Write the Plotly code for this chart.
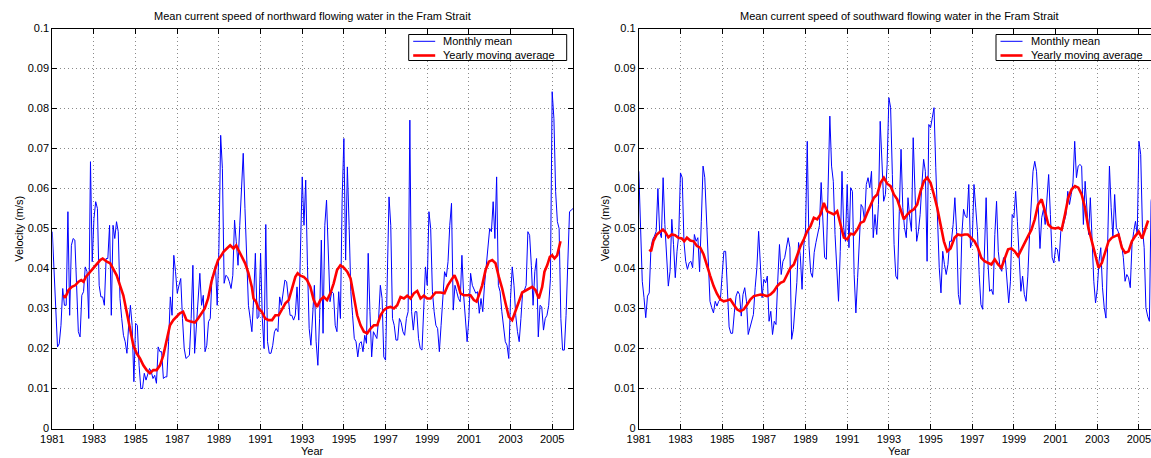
import plotly.graph_objects as go

# ---------------- data ----------------
start_year = 1981
north_monthly = [
    0.0492, 0.0400, 0.0317, 0.0204, 0.0212, 0.0258, 0.0350, 0.0308, 0.0308, 0.0542,
    0.0283, 0.0458, 0.0475, 0.0471, 0.0358, 0.0242, 0.0229, 0.0333, 0.0342, 0.0404,
    0.0392, 0.0275, 0.0667, 0.0417, 0.0525, 0.0567, 0.0550, 0.0358, 0.0329, 0.0329,
    0.0308, 0.0425, 0.0425, 0.0508, 0.0283, 0.0508, 0.0475, 0.0517, 0.0492, 0.0325,
    0.0275, 0.0233, 0.0217, 0.0188, 0.0258, 0.0308, 0.0258, 0.0117, 0.0263, 0.0258,
    0.0158, 0.0100, 0.0100, 0.0138, 0.0121, 0.0138, 0.0150, 0.0142, 0.0125, 0.0133,
    0.0113, 0.0204, 0.0192, 0.0192, 0.0125, 0.0129, 0.0129, 0.0217, 0.0329, 0.0283,
    0.0433, 0.0392, 0.0338, 0.0358, 0.0375, 0.0275, 0.0200, 0.0175, 0.0179, 0.0183,
    0.0275, 0.0408, 0.0188, 0.0250, 0.0325, 0.0388, 0.0308, 0.0333, 0.0192, 0.0208,
    0.0267, 0.0275, 0.0379, 0.0383, 0.0408, 0.0308, 0.0450, 0.0733,
    0.0650, 0.0363, 0.0383, 0.0379, 0.0367, 0.0350, 0.0383, 0.0521, 0.0467, 0.0408,
    0.0508, 0.0583, 0.0688, 0.0550, 0.0417, 0.0308, 0.0275, 0.0242, 0.0325, 0.0438,
    0.0275, 0.0279, 0.0438, 0.0275, 0.0200, 0.0510, 0.0217, 0.0188, 0.0188, 0.0208,
    0.0242, 0.0250, 0.0242, 0.0329, 0.0308, 0.0342, 0.0371, 0.0367, 0.0325, 0.0283,
    0.0283, 0.0271, 0.0283, 0.0354, 0.0271, 0.0458, 0.0629, 0.0508, 0.0621, 0.0408,
    0.0250, 0.0208, 0.0279, 0.0358, 0.0217, 0.0158, 0.0275, 0.0471, 0.0238, 0.0508,
    0.0571, 0.0417, 0.0317, 0.0342, 0.0338, 0.0258, 0.0242, 0.0342, 0.0275, 0.0575,
    0.0725, 0.0421, 0.0654, 0.0508, 0.0342, 0.0283, 0.0225, 0.0217, 0.0179, 0.0213,
    0.0217, 0.0192, 0.0233, 0.0213, 0.0438, 0.0292, 0.0179, 0.0242, 0.0233, 0.0225,
    0.0275, 0.0358, 0.0325, 0.0179, 0.0171, 0.0392, 0.0579, 0.0508, 0.0275, 0.0258,
    0.0221, 0.0221, 0.0275,
    0.0265, 0.0242, 0.0233, 0.0275, 0.0292, 0.0771, 0.0292, 0.0246, 0.0292, 0.0292,
    0.0225, 0.0200, 0.0196, 0.0292, 0.0404, 0.0358, 0.0542, 0.0500, 0.0342, 0.0292,
    0.0258, 0.0250, 0.0192, 0.0258, 0.0342, 0.0392, 0.0379, 0.0417, 0.0508, 0.0563,
    0.0296, 0.0358, 0.0342, 0.0325, 0.0317, 0.0433, 0.0333, 0.0275, 0.0217, 0.0275,
    0.0388, 0.0358, 0.0346, 0.0338, 0.0342, 0.0288, 0.0325, 0.0292, 0.0358, 0.0408,
    0.0467, 0.0500, 0.0492, 0.0567, 0.0475, 0.0629, 0.0358, 0.0342, 0.0292, 0.0258,
    0.0217, 0.0208, 0.0175, 0.0325, 0.0404, 0.0358, 0.0283, 0.0242, 0.0217, 0.0275,
    0.0342, 0.0346, 0.0358, 0.0492, 0.0483, 0.0408, 0.0308, 0.0392, 0.0425, 0.0229,
    0.0308, 0.0304, 0.0246, 0.0275, 0.0283, 0.0308, 0.0375, 0.0842, 0.0775, 0.0592,
    0.0517, 0.0500, 0.0275, 0.0196, 0.0196, 0.0283, 0.0417, 0.0542, 0.0546, 0.0550,
]

north_avg = [
    (1981.54, 0.0333), (1981.62, 0.0327), (1981.78, 0.0346), (1981.94, 0.0354), (1982.10, 0.0358),
    (1982.26, 0.0367), (1982.39, 0.0371), (1982.50, 0.0367), (1982.61, 0.0379), (1982.82, 0.0392),
    (1983.06, 0.0404), (1983.30, 0.0421), (1983.42, 0.0425), (1983.62, 0.0417), (1983.78, 0.0413),
    (1983.93, 0.0400), (1984.09, 0.0383), (1984.25, 0.0358), (1984.41, 0.0333), (1984.57, 0.0292),
    (1984.73, 0.0250), (1984.89, 0.0208), (1985.05, 0.0188), (1985.21, 0.0175), (1985.37, 0.0158),
    (1985.53, 0.0146), (1985.69, 0.0138), (1985.85, 0.0146), (1986.01, 0.0146), (1986.17, 0.0158),
    (1986.33, 0.0183), (1986.49, 0.0225), (1986.65, 0.0258), (1986.81, 0.0271), (1986.96, 0.0279),
    (1987.12, 0.0288), (1987.28, 0.0292), (1987.44, 0.0271), (1987.60, 0.0268), (1987.84, 0.0265),
    (1988.00, 0.0275), (1988.16, 0.0288), (1988.32, 0.0300), (1988.48, 0.0325), (1988.64, 0.0367),
    (1988.80, 0.0396), (1988.96, 0.0421), (1989.12, 0.0433), (1989.22, 0.0442), (1989.38, 0.0450),
    (1989.54, 0.0458), (1989.70, 0.0450), (1989.83, 0.0458), (1989.94, 0.0446), (1990.10, 0.0429),
    (1990.26, 0.0413), (1990.42, 0.0388), (1990.58, 0.0354), (1990.66, 0.0325), (1990.78, 0.0317),
    (1990.90, 0.0300), (1991.06, 0.0292), (1991.22, 0.0275), (1991.39, 0.0271), (1991.55, 0.0271),
    (1991.71, 0.0283), (1991.87, 0.0283), (1992.03, 0.0300), (1992.19, 0.0313), (1992.35, 0.0321),
    (1992.51, 0.0350), (1992.67, 0.0379), (1992.78, 0.0388), (1992.91, 0.0382), (1993.07, 0.0379),
    (1993.23, 0.0371), (1993.39, 0.0354), (1993.55, 0.0321), (1993.71, 0.0304), (1993.87, 0.0321),
    (1994.03, 0.0329), (1994.19, 0.0321), (1994.35, 0.0338), (1994.51, 0.0363), (1994.67, 0.0396),
    (1994.83, 0.0408), (1995.00, 0.0402), (1995.16, 0.0392), (1995.32, 0.0375), (1995.48, 0.0325),
    (1995.64, 0.0283), (1995.80, 0.0258), (1995.96, 0.0242), (1996.12, 0.0238), (1996.28, 0.0250),
    (1996.44, 0.0258), (1996.60, 0.0258), (1996.76, 0.0283), (1996.92, 0.0296), (1997.08, 0.0302),
    (1997.24, 0.0304), (1997.40, 0.0300), (1997.56, 0.0308), (1997.72, 0.0329), (1997.88, 0.0325),
    (1998.04, 0.0332), (1998.20, 0.0325), (1998.36, 0.0338), (1998.52, 0.0344), (1998.68, 0.0325),
    (1998.84, 0.0332), (1999.00, 0.0325), (1999.16, 0.0325), (1999.40, 0.0340), (1999.64, 0.0340),
    (1999.83, 0.0338), (1999.99, 0.0358), (2000.15, 0.0371), (2000.31, 0.0383), (2000.44, 0.0367),
    (2000.60, 0.0338), (2000.76, 0.0333), (2000.92, 0.0333), (2001.08, 0.0333), (2001.24, 0.0321),
    (2001.37, 0.0317), (2001.48, 0.0333), (2001.64, 0.0358), (2001.80, 0.0396), (2001.96, 0.0417),
    (2002.12, 0.0421), (2002.28, 0.0413), (2002.44, 0.0379), (2002.60, 0.0350), (2002.76, 0.0313),
    (2002.92, 0.0279), (2003.08, 0.0271), (2003.24, 0.0292), (2003.40, 0.0317), (2003.56, 0.0340),
    (2003.72, 0.0344), (2003.88, 0.0350), (2004.04, 0.0354), (2004.20, 0.0346), (2004.36, 0.0325),
    (2004.52, 0.0354), (2004.63, 0.0392), (2004.76, 0.0408), (2004.89, 0.0429), (2005.00, 0.0433),
    (2005.11, 0.0425), (2005.24, 0.0433), (2005.32, 0.0450), (2005.40, 0.0468),
]

south_monthly = [
    0.0643, 0.0518, 0.0368, 0.0327, 0.0277, 0.0331, 0.0339, 0.0452, 0.0473, 0.0481,
    0.0493, 0.0600, 0.0493, 0.0477, 0.0627, 0.0510, 0.0435, 0.0356, 0.0393, 0.0523,
    0.0460, 0.0377, 0.0443, 0.0485, 0.0639, 0.0627, 0.0468, 0.0418, 0.0398, 0.0414,
    0.0418, 0.0402, 0.0485, 0.0468, 0.0477, 0.0392, 0.0518, 0.0656, 0.0627, 0.0518,
    0.0402, 0.0318, 0.0302, 0.0289, 0.0318, 0.0306, 0.0318, 0.0323, 0.0385, 0.0443,
    0.0443, 0.0352, 0.0254, 0.0238, 0.0238, 0.0289, 0.0331, 0.0343, 0.0335, 0.0281,
    0.0335, 0.0352, 0.0318, 0.0235, 0.0252, 0.0268, 0.0285, 0.0352, 0.0402, 0.0493,
    0.0410, 0.0327, 0.0373, 0.0364, 0.0381, 0.0268, 0.0293, 0.0235, 0.0268, 0.0260,
    0.0368, 0.0460, 0.0385, 0.0418, 0.0427, 0.0448, 0.0477, 0.0452,
    0.0223, 0.0248, 0.0302, 0.0365, 0.0465, 0.0432, 0.0348, 0.0457, 0.0494, 0.0718,
    0.0457, 0.0390, 0.0378, 0.0440, 0.0465, 0.0486, 0.0507, 0.0615, 0.0532, 0.0428,
    0.0423, 0.0573, 0.0781, 0.0656, 0.0618, 0.0485, 0.0402, 0.0318, 0.0443, 0.0643,
    0.0502, 0.0468, 0.0610, 0.0452, 0.0602, 0.0593, 0.0385, 0.0289, 0.0377, 0.0468,
    0.0560, 0.0552, 0.0518, 0.0610, 0.0627, 0.0602, 0.0643, 0.0477, 0.0535, 0.0485,
    0.0560, 0.0768, 0.0660, 0.0568, 0.0585, 0.0660, 0.0827, 0.0802, 0.0635, 0.0460,
    0.0381, 0.0373, 0.0543, 0.0698, 0.0552, 0.0502, 0.0477, 0.0577, 0.0527, 0.0493,
    0.0727, 0.0618, 0.0468, 0.0493, 0.0535, 0.0610, 0.0673, 0.0643, 0.0418, 0.0760,
    0.0752, 0.0777, 0.0802, 0.0652, 0.0527, 0.0402, 0.0339, 0.0443, 0.0410, 0.0385,
    0.0410, 0.0468, 0.0468, 0.0510, 0.0577, 0.0493, 0.0335, 0.0310,
    0.0485, 0.0548, 0.0531, 0.0527, 0.0610, 0.0452, 0.0468, 0.0610, 0.0552, 0.0493,
    0.0385, 0.0310, 0.0298, 0.0418, 0.0577, 0.0418, 0.0343, 0.0348, 0.0335, 0.0485,
    0.0568, 0.0443, 0.0402, 0.0393, 0.0427, 0.0427, 0.0368, 0.0314, 0.0368, 0.0535,
    0.0527, 0.0593, 0.0518, 0.0418, 0.0343, 0.0381, 0.0335, 0.0318, 0.0381, 0.0485,
    0.0552, 0.0643, 0.0668, 0.0643, 0.0556, 0.0450, 0.0527, 0.0548, 0.0510, 0.0585,
    0.0635, 0.0535, 0.0427, 0.0414, 0.0452, 0.0448, 0.0418, 0.0493, 0.0502, 0.0518,
    0.0535, 0.0593, 0.0560, 0.0585, 0.0614, 0.0718, 0.0627, 0.0656, 0.0660, 0.0656,
    0.0510, 0.0618, 0.0560, 0.0485, 0.0577, 0.0477, 0.0368, 0.0314, 0.0348, 0.0418,
    0.0452, 0.0352, 0.0302, 0.0276, 0.0518, 0.0656, 0.0552, 0.0477, 0.0585, 0.0502,
    0.0493, 0.0477, 0.0460, 0.0427, 0.0368, 0.0385, 0.0377, 0.0352, 0.0460, 0.0493,
    0.0518, 0.0485, 0.0718, 0.0685, 0.0502, 0.0452, 0.0302, 0.0281, 0.0268, 0.0568,
    0.0600,
]

south_avg = [
    (1981.51, 0.0448), (1981.59, 0.0443), (1981.70, 0.0468), (1981.86, 0.0485), (1982.02, 0.0492),
    (1982.15, 0.0497), (1982.26, 0.0492), (1982.42, 0.0478), (1982.58, 0.0485), (1982.74, 0.0483),
    (1982.90, 0.0477), (1983.06, 0.0475), (1983.18, 0.0468), (1983.31, 0.0477), (1983.47, 0.0470),
    (1983.63, 0.0468), (1983.79, 0.0456), (1983.95, 0.0452), (1984.11, 0.0435), (1984.27, 0.0406),
    (1984.43, 0.0381), (1984.59, 0.0356), (1984.75, 0.0337), (1984.91, 0.0323), (1985.07, 0.0318),
    (1985.23, 0.0320), (1985.39, 0.0323), (1985.55, 0.0310), (1985.71, 0.0298), (1985.87, 0.0293),
    (1986.04, 0.0298), (1986.20, 0.0310), (1986.36, 0.0323), (1986.52, 0.0331), (1986.68, 0.0333),
    (1986.84, 0.0335), (1987.00, 0.0333), (1987.16, 0.0331), (1987.32, 0.0335), (1987.48, 0.0343),
    (1987.64, 0.0356), (1987.80, 0.0364), (1987.96, 0.0368), (1988.12, 0.0385), (1988.28, 0.0402),
    (1988.44, 0.0410), (1988.60, 0.0435), (1988.76, 0.0456), (1988.92, 0.0473), (1989.08, 0.0493),
    (1989.24, 0.0506), (1989.40, 0.0527), (1989.56, 0.0523), (1989.72, 0.0535), (1989.88, 0.0564),
    (1990.04, 0.0543), (1990.20, 0.0539), (1990.36, 0.0535), (1990.52, 0.0543), (1990.68, 0.0506),
    (1990.84, 0.0477), (1991.00, 0.0473), (1991.16, 0.0487), (1991.32, 0.0485), (1991.48, 0.0497),
    (1991.64, 0.0514), (1991.80, 0.0518), (1991.96, 0.0539), (1992.12, 0.0560), (1992.28, 0.0577),
    (1992.44, 0.0585), (1992.60, 0.0614), (1992.76, 0.0627), (1992.92, 0.0612), (1993.08, 0.0606),
    (1993.24, 0.0585), (1993.40, 0.0573), (1993.56, 0.0548), (1993.72, 0.0523), (1993.88, 0.0535),
    (1994.04, 0.0543), (1994.20, 0.0548), (1994.36, 0.0560), (1994.52, 0.0593), (1994.68, 0.0618),
    (1994.84, 0.0627), (1995.00, 0.0614), (1995.16, 0.0585), (1995.32, 0.0552), (1995.48, 0.0510),
    (1995.64, 0.0468), (1995.80, 0.0443), (1995.96, 0.0450), (1996.15, 0.0477), (1996.31, 0.0485),
    (1996.47, 0.0483), (1996.63, 0.0485), (1996.79, 0.0485), (1996.95, 0.0477), (1997.11, 0.0468),
    (1997.27, 0.0452), (1997.43, 0.0427), (1997.59, 0.0418), (1997.76, 0.0414), (1997.92, 0.0410),
    (1998.08, 0.0423), (1998.24, 0.0410), (1998.40, 0.0402), (1998.56, 0.0427), (1998.72, 0.0448),
    (1998.88, 0.0450), (1999.04, 0.0443), (1999.20, 0.0431), (1999.36, 0.0448), (1999.52, 0.0468),
    (1999.68, 0.0481), (1999.84, 0.0497), (2000.00, 0.0523), (2000.16, 0.0560), (2000.33, 0.0573),
    (2000.49, 0.0543), (2000.65, 0.0510), (2000.81, 0.0502), (2000.97, 0.0500), (2001.13, 0.0502),
    (2001.29, 0.0497), (2001.45, 0.0535), (2001.61, 0.0577), (2001.77, 0.0598), (2001.93, 0.0606),
    (2002.09, 0.0602), (2002.25, 0.0585), (2002.41, 0.0552), (2002.57, 0.0502), (2002.74, 0.0468),
    (2002.90, 0.0435), (2003.06, 0.0402), (2003.22, 0.0414), (2003.38, 0.0443), (2003.54, 0.0468),
    (2003.70, 0.0477), (2003.86, 0.0481), (2004.02, 0.0485), (2004.18, 0.0452), (2004.34, 0.0439),
    (2004.50, 0.0443), (2004.66, 0.0468), (2004.82, 0.0481), (2004.99, 0.0492), (2005.15, 0.0475),
    (2005.31, 0.0502), (2005.44, 0.0520),
]

year_ticks = list(range(1981, 2006, 2))
year_labels = [str(y) for y in year_ticks]
vel_ticks = [0, 0.01, 0.02, 0.03, 0.04, 0.05, 0.06, 0.07, 0.08, 0.09, 0.1]
vel_labels = ["0", "0.01", "0.02", "0.03", "0.04", "0.05", "0.06", "0.07", "0.08", "0.09", "0.1"]

titles = ["Mean current speed of northward flowing water in the Fram Strait",
          "Mean current speed of southward flowing water in the Fram Strait"]
legend_names = ["Monthly mean", "Yearly moving average"]
legend_colors = ["#0000ff", "#ff0000"]
legend_widths = [1, 2.6]

# ---------------- figure ----------------
W, H = 1151, 458
FONT = "Liberation Sans, Arial, Helvetica, sans-serif"

def month_years(vals):
    return [start_year + i / 12.0 for i in range(len(vals))]

fig = go.Figure()
for k, (monthly, avg) in enumerate([(north_monthly, north_avg), (south_monthly, south_avg)]):
    xa = "x" if k == 0 else "x2"
    ya = "y" if k == 0 else "y2"
    fig.add_trace(go.Scatter(x=month_years(monthly), y=monthly, mode="lines",
                             line=dict(color=legend_colors[0], width=legend_widths[0]),
                             name=legend_names[0], xaxis=xa, yaxis=ya, showlegend=False))
    fig.add_trace(go.Scatter(x=[p[0] for p in avg], y=[p[1] for p in avg], mode="lines",
                             line=dict(color=legend_colors[1], width=legend_widths[1]),
                             name=legend_names[1], xaxis=xa, yaxis=ya, showlegend=False))

# pixel geometry of the two axes boxes
ax_left = [(52.3, 573.0), (638.8, 1159.8)]
top_px, bot_px = 28.5, 428.5
ydom = [1 - bot_px / H, 1 - top_px / H]

def xdom(k):
    a, b = ax_left[k]
    return [a / W, min(b, W) / W]

x2_end = 1981 + (W - ax_left[1][0]) / ((ax_left[1][1] - ax_left[1][0]) / 25.0)

common_x = dict(tickmode="array", tickvals=year_ticks, ticktext=year_labels,
                ticks="inside", ticklen=5, tickcolor="black", showline=True,
                linecolor="black", linewidth=1, showgrid=True, gridcolor="#8a8a8a",
                gridwidth=1, griddash="1px,3px", zeroline=False, ticklabeloverflow="allow",
                tickfont=dict(family=FONT, size=11, color="black"))
common_y = dict(tickmode="array", tickvals=vel_ticks, ticktext=vel_labels,
                ticks="inside", ticklen=5, tickcolor="black", showline=True,
                linecolor="black", linewidth=1, showgrid=True, gridcolor="#8a8a8a",
                gridwidth=1, griddash="1px,3px", zeroline=False, range=[0, 0.1],
                tickfont=dict(family=FONT, size=11, color="black"))

fig.update_layout(
    width=W, height=H,
    margin=dict(l=0, r=0, t=0, b=0, autoexpand=False),
    paper_bgcolor="white", plot_bgcolor="white",
    font=dict(family=FONT, size=11, color="black"),
    xaxis=dict(domain=xdom(0), range=[1981, 2006], anchor="y", mirror="ticks", **common_x),
    yaxis=dict(domain=ydom, anchor="x", mirror="ticks", **common_y),
    xaxis2=dict(domain=xdom(1), range=[1981, x2_end], anchor="y2", mirror="ticks", **common_x),
    yaxis2=dict(domain=ydom, anchor="x2", mirror=False, **common_y),
    showlegend=False,
)

def px(x):
    return x / W

def py(y):
    return 1 - y / H

annotations = []
shapes = []
# legend boxes (MATLAB-style, NorthEast): left edge in pixels
legend_left = [408.7, 996.0]
for k in range(2):
    a, b = ax_left[k]
    cx = (a + b) / 2 / W
    annotations.append(dict(text=titles[k], x=cx, y=py(16), xref="paper", yref="paper",
                            xanchor="center", yanchor="middle", showarrow=False,
                            font=dict(family=FONT, size=11, color="black")))
    annotations.append(dict(text="Year", x=cx, y=py(451), xref="paper", yref="paper",
                            xanchor="center", yanchor="middle", showarrow=False,
                            font=dict(family=FONT, size=11, color="black")))
    annotations.append(dict(text="Velocity (m/s)", x=px(a - 34), y=py(228.5),
                            xref="paper", yref="paper", xanchor="center", yanchor="middle",
                            textangle=-90, showarrow=False,
                            font=dict(family=FONT, size=11, color="black")))
    L = legend_left[k]
    shapes.append(dict(type="rect", xref="paper", yref="paper",
                       x0=px(L), x1=px(L + 158), y0=py(60.5), y1=py(34.5),
                       line=dict(color="black", width=1), fillcolor="white", layer="above"))
    for j in range(2):
        yy = 41.3 + j * 14.2
        shapes.append(dict(type="line", xref="paper", yref="paper",
                           x0=px(L + 4.5), x1=px(L + 26.5), y0=py(yy), y1=py(yy),
                           line=dict(color=legend_colors[j], width=legend_widths[j]),
                           layer="above"))
        annotations.append(dict(text=legend_names[j], x=px(L + 32.5), y=py(yy),
                                xref="paper", yref="paper", xanchor="left", yanchor="middle",
                                showarrow=False,
                                font=dict(family=FONT, size=11, color="black")))
fig.update_layout(annotations=annotations, shapes=shapes)

fig.write_html("out.html")
